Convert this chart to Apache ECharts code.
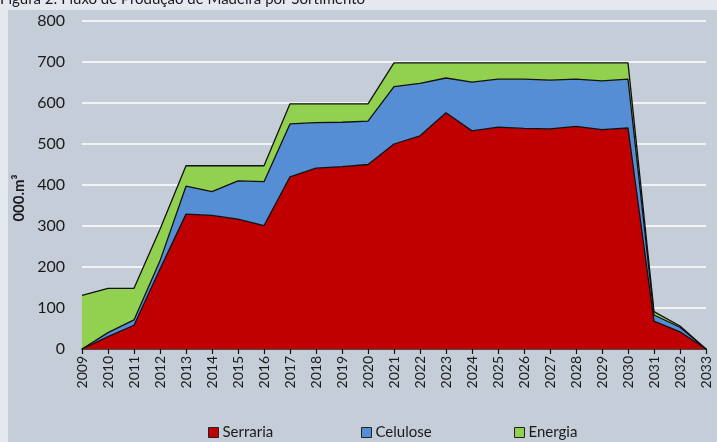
<!DOCTYPE html>
<html>
<head>
<meta charset="utf-8">
<script src="https://cdn.jsdelivr.net/npm/echarts@6/dist/echarts.min.js"></script>
<style>
html,body{margin:0;padding:0;background:#E4E9EF;}
#c{width:717px;height:442px;}
</style>
</head>
<body>
<div id="c"></div>
<script>
const years = ['2009','2010','2011','2012','2013','2014','2015','2016','2017','2018','2019','2020','2021','2022','2023','2024','2025','2026','2027','2028','2029','2030','2031','2032','2033'];
const serraria = [0,30,58,195,329,326,317,301,420,441,445,450,500,520,576,532,541,538,537,543,535,539,68,42,0];
const celulose = [0,10,13,20,68,58,93,107,129,111,108,106,140,128,85,119,117,120,119,115,119,119,15,11,0];
const energia = [131,108,77,77,50,63,37,39,49,46,45,42,58,50,37,47,40,40,42,40,44,40,8,3,0];
const yTicks = [0,100,200,300,400,500,600,700,800];

const FONT = 'Lato';
const chart = echarts.init(document.getElementById('c'), null, {renderer:'canvas'});

function mkLegend(name, color, left){
  return {
    left: left, top: 420,
    itemWidth: 10, itemHeight: 10, itemGap: 0,
    icon: 'rect',
    textStyle: {fontFamily: FONT, fontSize: 15, color: '#1a1a1a', padding:[0,0,0,-1]},
    data: [{name: name, itemStyle: {color: color, borderColor: '#222', borderWidth: 1}}]
  };
}

chart.setOption({
  backgroundColor: '#E4E9EF',
  animation: false,
  graphic: [
    {type:'rect', left: 8, top: 10, shape:{width: 709, height: 432}, style:{fill:'#C5CED8'}, z: -10},
    {type:'text', left: 0, top: -8, style:{text:'Figura 2: Fluxo de Produção de Madeira por Sortimento', font:'15px Lato', fill:'#1a1a1a'}}
  ],
  grid: {left: 82, right: 11, top: 21, bottom: 93},
  legend: [
    mkLegend('Serraria', '#C00000', 203),
    mkLegend('Celulose', '#558ED5', 356),
    mkLegend('Energia', '#92D050', 509)
  ],
  xAxis: {
    type: 'category',
    data: years,
    boundaryGap: false,
    axisLine: {lineStyle: {color: '#111', width: 1.5}},
    axisTick: {show: true, length: 5, lineStyle: {color: '#111', width: 1.2}},
    axisLabel: {rotate: 90, fontFamily: FONT, fontSize: 14, color: '#1a1a1a', margin: 7, interval: 0},
    splitLine: {show: false}
  },
  yAxis: {
    type: 'value',
    min: yTicks[0], max: yTicks[yTicks.length-1], interval: 100,
    name: '000.m³',
    nameLocation: 'middle',
    nameRotate: 90,
    nameGap: 54,
    nameTextStyle: {fontFamily: FONT, fontSize: 15, fontWeight: 'bold', color: '#1a1a1a', padding: [0, 26, 0, 0]},
    axisLine: {show: false},
    axisTick: {show: false},
    axisLabel: {fontFamily: FONT, fontSize: 16, color: '#1a1a1a', margin: 17},
    splitLine: {lineStyle: {color: '#FFFFFF', width: 1.5}}
  },
  series: [
    {name:'Serraria', type:'line', stack:'t', data: serraria, symbol:'none',
     lineStyle:{color:'#111', width:1.3}, itemStyle:{color:'#C00000'},
     areaStyle:{color:'#C00000', opacity:1}},
    {name:'Celulose', type:'line', stack:'t', data: celulose, symbol:'none',
     lineStyle:{color:'#111', width:1.3}, itemStyle:{color:'#558ED5'},
     areaStyle:{color:'#558ED5', opacity:1}},
    {name:'Energia', type:'line', stack:'t', data: energia, symbol:'none',
     lineStyle:{color:'#111', width:1.3}, itemStyle:{color:'#92D050'},
     areaStyle:{color:'#92D050', opacity:1}}
  ]
});
</script>
</body>
</html>
